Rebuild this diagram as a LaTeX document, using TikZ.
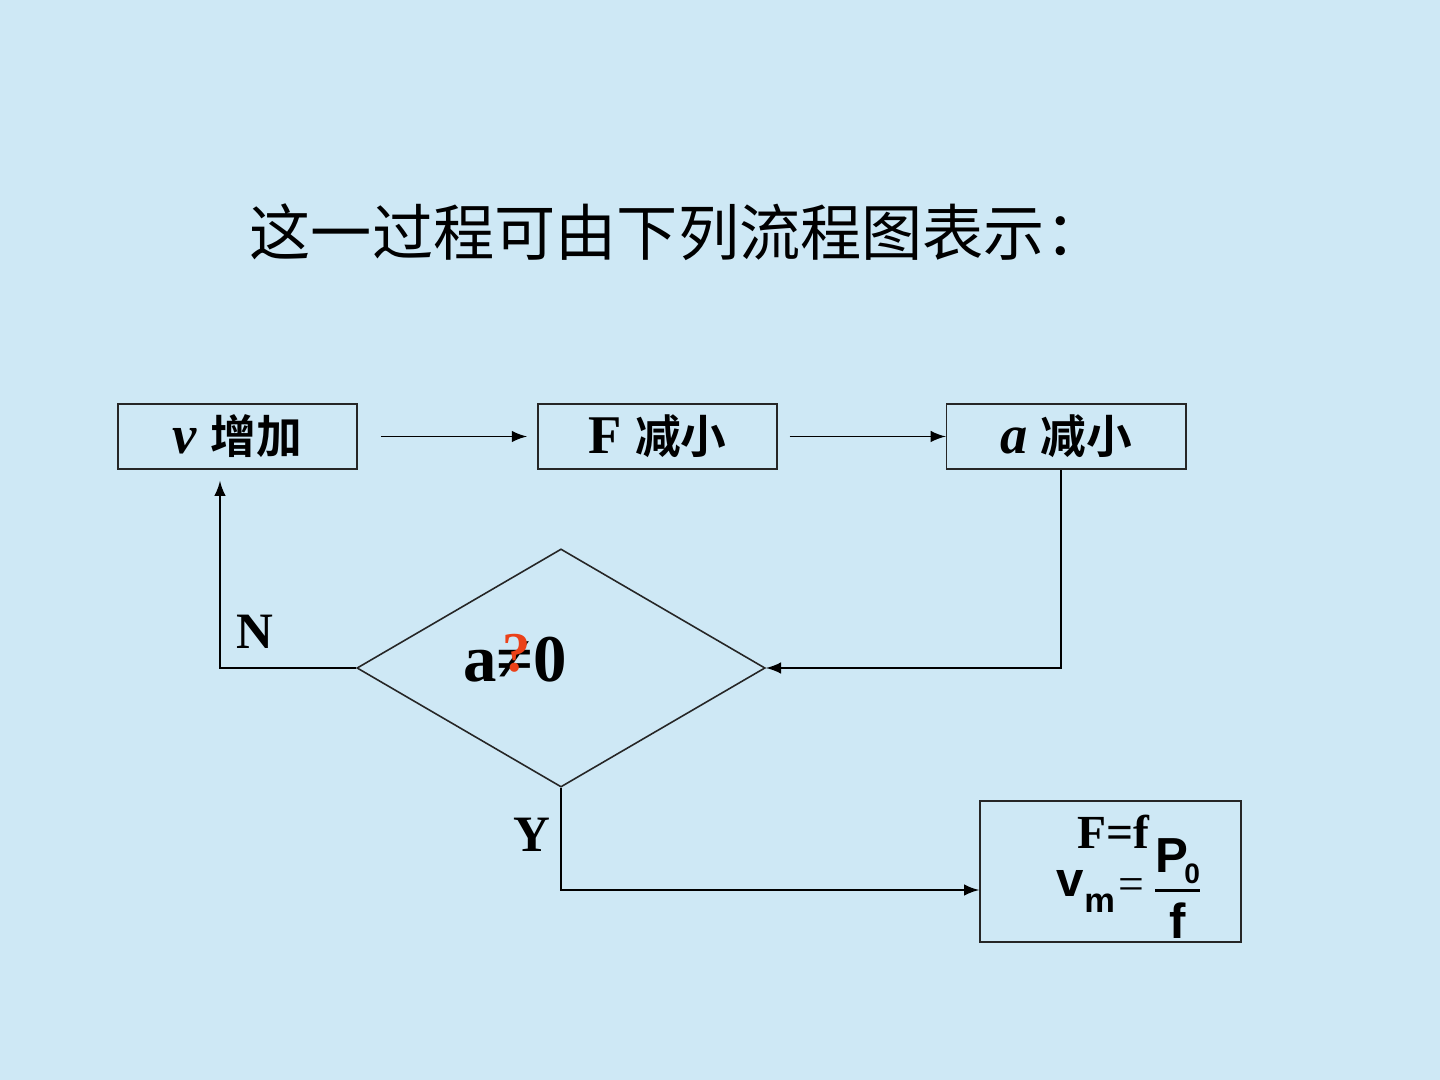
\documentclass[tikz,border=0pt]{standalone}
\usepackage{fontspec}
\setmainfont{Liberation Serif}
\setsansfont{Liberation Sans}
\newfontfamily\cjk[BoldFont={Noto Sans CJK SC Bold}]{Noto Sans CJK SC}
\usepackage{xcolor}
\usetikzlibrary{shapes.geometric, arrows, positioning}
\definecolor{slidebg}{RGB}{206,232,245}
\definecolor{qred}{RGB}{235,65,25}

\begin{document}
\begin{tikzpicture}[x=0.01cm, y=-0.01cm]
\tikzstyle{stepbox} = [rectangle, draw=black!85, line width=0.45pt, minimum width=2.39cm, minimum height=0.65cm, inner sep=0pt, font=\fontsize{15.5}{18}\selectfont\bfseries]
\tikzstyle{arr} = [->, >=latex, line width=0.5pt]
\tikzstyle{yn} = [font=\fontsize{14.5}{17}\selectfont\bfseries]

\fill[slidebg] (0,0) rectangle (1440,1080);

\node (title) [anchor=west, inner sep=0pt, font=\cjk\fontsize{17.4}{20}\selectfont] at (249,232) {这一过程可由下列流程图表示：};

\node (vup) [stepbox] at (237.5,436.5) {\textit{v} {\cjk\fontsize{13}{16}\selectfont 增加}};
\node (fdown) [stepbox, right=1.79cm of vup] {F {\cjk\fontsize{13}{16}\selectfont 减小}};
\node (adown) [stepbox, right=1.68cm of fdown] {\textit{a} {\cjk\fontsize{13}{16}\selectfont 减小}};

\node (check) [diamond, draw=black!85, line width=0.45pt, minimum width=4.08cm, minimum height=2.38cm, inner sep=0pt] at (561,668) {};
\node (cond) [font=\fontsize{19}{22}\selectfont\bfseries] at (515,660) {a\ooalign{≠\cr\hidewidth\kern1pt\raisebox{3pt}{\fontsize{16}{18}\selectfont\textcolor{qred}{?}}\hidewidth\cr}0};

\node (nlab) [yn] at (255,632) {N};
\node (ylab) [yn] at (532,835) {Y};

\node (result) [rectangle, draw=black!85, line width=0.45pt, minimum width=2.61cm, minimum height=1.41cm] at (1110.5,871.5) {};
\node (ff) [font=\fontsize{13.5}{16}\selectfont\bfseries] at (1113,832) {F=f};
\node (vm) [anchor=base east, inner sep=0pt, font=\sffamily\bfseries\fontsize{14}{16}\selectfont] at (1145,896) {v\raisebox{-4.6pt}{\fontsize{9.8}{11}\selectfont m}\kern1pt\raisebox{-1pt}{\rmfamily\mdseries\fontsize{13}{15}\selectfont=}};
\node (pf) [anchor=north, inner sep=0pt, font=\sffamily\bfseries\fontsize{14}{17}\selectfont] at (1177.5,830) {\setlength{\arrayrulewidth}{0.6pt}\begin{tabular}{@{}c@{}}P\kern-1pt\raisebox{-3pt}{\fontsize{8}{8}\selectfont 0}\\[-0.3pt]\hline\rule{0pt}{13.4pt}f\end{tabular}};

\draw [arr, shorten <=0.23cm, shorten >=0.1cm] (vup) -- (fdown);
\draw [arr, shorten <=0.12cm] (fdown) -- (adown);
\draw [arr] ([xshift=-0.05cm]adown.south) |- (check.east);
\draw [arr, shorten >=0.11cm] (check.west) -| ([xshift=-0.175cm]vup.south);
\draw [arr] (check.south) |- ([yshift=-0.185cm]result.west);

\end{tikzpicture}
\end{document}
